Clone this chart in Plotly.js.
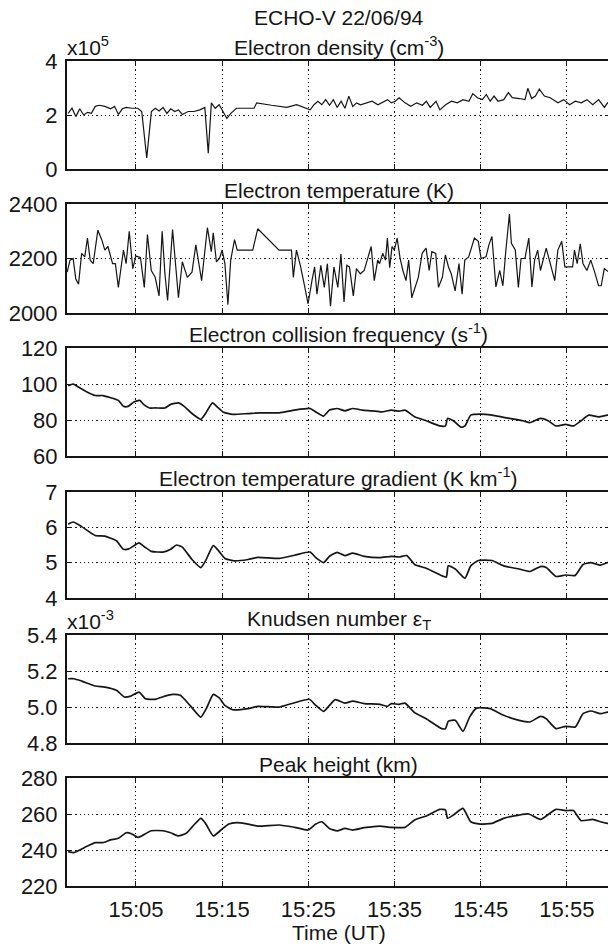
<!DOCTYPE html>
<html><head><meta charset="utf-8">
<script src="https://cdn.plot.ly/plotly-3.0.1.min.js"></script>
<style>html,body{margin:0;padding:0;overflow:hidden;background:#fff}#chart{width:612px;height:946px}</style>
</head><body><div id="chart"></div>
<script>
// time in minutes after 15:00 UT
const xTickVals = [5, 15, 25, 35, 45, 55];
const xTickText = ["15:05", "15:15", "15:25", "15:35", "15:45", "15:55"];

// Electron density (x1e5 cm^-3)
const densT = [-2.87,-2.42,-1.97,-1.52,-1.07,-0.62,-0.17,0.28,0.73,1.40,2.07,2.52,2.97,3.42,3.87,4.54,5.22,5.67,6.25,6.79,7.24,7.69,8.14,8.59,9.04,9.49,9.93,10.38,11.06,11.73,12.41,12.99,13.39,13.75,14.20,14.65,15.10,15.55,16.00,16.67,18.70,19.01,20.72,22.51,23.64,24.76,25.21,25.66,26.11,26.56,27.01,27.46,27.90,28.35,28.80,29.25,29.70,30.15,30.60,31.05,31.72,32.40,33.07,33.74,34.19,34.64,35.09,35.54,36.22,36.89,37.56,38.24,38.69,39.14,39.81,40.26,40.93,41.61,42.28,42.95,43.63,44.08,44.62,45.20,45.65,46.10,46.55,47.00,47.67,48.21,48.66,49.47,50.14,50.46,50.91,51.35,51.80,52.39,53.06,53.96,54.63,55.31,55.98,56.66,57.33,58.00,58.68,59.35,59.71,60];
const densV = [2.06,2.25,1.94,2.23,2.0,2.1,2.06,2.32,2.36,2.32,2.23,2.32,2.02,2.23,2.28,2.25,2.25,2.13,0.41,2.13,2.25,2.15,2.28,2.06,2.23,2.13,2.19,2.02,2.13,2.13,2.19,2.28,0.58,2.45,2.25,2.38,2.13,1.87,2.06,2.25,2.25,2.45,2.36,2.28,2.38,2.25,2.19,2.38,2.51,2.38,2.57,2.36,2.57,2.28,2.51,2.25,2.70,2.32,2.45,2.38,2.45,2.51,2.38,2.51,2.57,2.45,2.51,2.64,2.45,2.32,2.45,2.36,2.51,2.28,2.51,2.19,2.38,2.51,2.45,2.57,2.51,2.79,2.64,2.57,2.76,2.51,2.70,2.51,2.57,2.83,2.64,2.61,2.57,2.99,2.61,2.70,2.96,2.70,2.64,2.45,2.57,2.38,2.51,2.45,2.57,2.38,2.57,2.28,2.45,2.40];

// Electron temperature (K)
const tempT = [-2.98,-2.65,-2.29,-1.98,-1.66,-1.30,-0.94,-0.63,-0.31,0.04,0.58,1.03,1.39,1.75,2.29,2.61,2.96,3.55,3.86,4.22,4.63,4.99,5.52,5.97,6.33,6.78,7.23,7.68,8.04,8.36,8.67,9.25,9.93,10.38,10.96,11.50,11.95,12.62,13.29,13.74,13.97,14.33,14.69,15.00,15.32,15.67,15.99,16.44,16.75,18.55,19.13,21.60,23.04,23.26,23.62,24.07,24.52,24.97,25.42,25.73,26.00,26.45,26.85,27.21,27.57,27.97,28.42,28.78,29.14,29.46,29.77,30.22,30.58,31.03,31.48,31.93,32.29,32.65,33.05,33.27,33.63,33.95,34.17,34.44,34.71,34.98,35.30,35.65,35.97,36.33,36.64,37.00,37.76,38.21,38.66,39.02,39.33,39.78,40.10,40.55,40.90,41.26,41.58,42.03,42.48,42.84,43.15,43.60,44.27,44.72,45.04,45.62,45.95,46.30,46.76,47.21,47.57,47.93,48.33,48.56,49.01,49.37,49.68,50.13,50.58,50.94,51.25,51.61,51.93,52.60,53.05,53.59,53.95,54.40,54.76,55.07,55.66,55.88,56.19,56.55,56.87,57.32,57.77,58.22,58.67,58.98,59.34,59.70,60];
const tempV = [2150,2194,2200,2125,2106,2219,2206,2275,2194,2181,2304,2269,2231,2244,2181,2181,2094,2231,2181,2300,2163,2209,2204,2094,2288,2156,2131,2063,2300,2144,2046,2306,2056,2188,2131,2150,2250,2119,2313,2225,2294,2188,2200,2231,2181,2031,2194,2269,2231,2231,2309,2231,2231,2131,2231,2175,2106,2034,2119,2169,2069,2175,2094,2181,2025,2169,2094,2216,2041,2175,2169,2063,2163,2144,2156,2206,2244,2119,2194,2181,2219,2194,2275,2166,2244,2231,2275,2200,2156,2119,2194,2056,2131,2219,2238,2156,2225,2219,2094,2131,2213,2169,2144,2081,2181,2069,2194,2206,2275,2263,2200,2206,2250,2281,2096,2156,2100,2234,2363,2256,2231,2094,2200,2200,2275,2096,2194,2231,2156,2238,2181,2119,2231,2263,2169,2169,2169,2231,2181,2254,2181,2156,2194,2150,2100,2100,2163,2154,2150];

// Electron collision frequency (s^-1)
const collT = [-2.87,-2.29,-1.75,-0.85,0.27,1.17,2.07,2.96,3.55,4.09,4.76,5.44,5.88,6.56,7.23,8.36,9.03,9.93,10.60,11.50,12.53,13.07,13.88,14.42,15.09,16.22,18.01,19.36,21.61,23.40,25.20,25.87,26.77,27.45,28.34,29.24,30.14,31.26,32.39,33.51,34.63,35.53,36.21,37.33,38.68,40.25,40.92,41.15,41.82,42.72,43.17,43.84,44.96,46.31,47.66,49.01,49.91,50.71,51.93,52.83,53.73,54.85,55.75,56.64,57.54,58.67,59.70,60];
const collV = [99.1,100,98.5,96,93.6,93.6,92.4,90.9,87.6,87.6,90,90.9,88.7,86.7,86.7,86.7,88.7,89.5,87.6,83.6,80.4,83.6,89.5,87.3,84.5,83.1,83.6,84,84,85.5,86.4,84.5,82.2,85.5,86.4,85.1,86.4,85.5,85.1,84.5,85.5,84.9,85.5,81.8,79.6,76.7,76.7,80.9,79.6,76,76.7,82.7,83.3,82.7,81.5,80.4,79.6,78.5,80.9,79.6,76.7,77.6,76.7,79.6,82.7,81.8,82.7,82.5];

// Electron temperature gradient (K km^-1)
const gradT = [-2.87,-2.29,-1.30,0.27,1.39,2.74,3.55,4.18,5.35,5.97,6.78,8.13,9.03,9.70,10.38,11.50,12.53,13.07,13.97,14.64,15.32,16.44,18.01,19.14,21.61,23.40,25.20,25.87,26.77,27.45,28.34,29.24,30.14,31.49,33.29,34.63,35.53,36.43,37.33,38.68,40.70,41.01,41.24,42.05,43.17,43.84,44.74,46.31,47.66,49.46,50.71,51.93,52.60,53.73,54.85,55.97,56.87,57.77,58.89,59.70,60];
const gradV = [6.09,6.15,6.02,5.77,5.75,5.62,5.38,5.39,5.56,5.45,5.32,5.30,5.38,5.50,5.44,5.09,4.86,5.05,5.48,5.32,5.12,5.05,5.09,5.15,5.12,5.21,5.30,5.14,5.00,5.18,5.29,5.20,5.27,5.18,5.14,5.18,5.16,5.20,4.95,4.84,4.61,4.59,4.91,4.82,4.56,4.91,5.06,5.06,4.91,4.82,4.75,4.89,4.86,4.61,4.65,4.64,4.95,5.00,4.93,5.00,4.98];

// Knudsen number (x1e-3)
const knudT = [-2.87,-2.20,-1.30,0.27,1.39,2.74,3.64,4.31,5.35,6.11,7.23,8.36,9.25,10.15,11.27,12.53,13.16,13.97,14.64,15.32,16.22,18.01,19.14,21.61,23.40,25.11,25.87,26.77,27.45,28.12,29.24,30.14,31.49,33.29,34.18,34.63,35.53,36.21,37.33,38.68,40.47,40.92,41.24,42.05,42.94,43.71,44.52,46.09,47.66,49.46,50.71,51.93,52.60,53.73,54.85,55.97,56.87,57.77,58.89,59.70,60];
const knudV = [5.157,5.157,5.144,5.117,5.111,5.093,5.056,5.059,5.083,5.046,5.043,5.061,5.070,5.065,5.009,4.944,4.991,5.070,5.052,5.009,4.985,4.991,5.004,5.000,5.024,5.043,5.009,4.976,5.009,5.041,5.022,5.033,5.019,5.015,5.004,5.019,5.015,5.022,4.969,4.935,4.880,4.880,4.922,4.926,4.865,4.944,4.994,4.991,4.954,4.926,4.917,4.948,4.935,4.880,4.893,4.889,4.963,4.978,4.963,4.972,4.970];

// Peak height (km)
const peakT = [-2.87,-2.20,-1.53,-0.63,0.27,1.17,2.07,2.96,3.86,4.54,5.21,5.66,6.78,8.13,9.03,9.93,10.83,11.72,12.53,13.07,13.97,14.87,15.77,16.67,18.01,19.14,21.61,23.40,24.98,25.87,26.55,27.45,28.34,29.24,30.14,31.49,33.29,34.63,36.21,37.33,38.68,40.25,40.92,41.15,41.82,42.94,43.84,44.96,46.31,47.66,49.46,50.58,51.93,53.73,54.85,55.75,56.64,57.99,58.89,59.70,60];
const peakV = [239.1,238.5,240,242.2,244.1,244.1,245.6,246.5,249.6,248.9,247,247.8,250.7,250.7,249.6,247.8,249.3,253.9,257.6,254.8,247.8,251.1,254.4,255.2,254.4,253.3,253.9,252.6,251.1,254.4,255.7,252,250.6,252,251.1,252.4,253.3,252.6,252.6,256.7,258.9,262.6,262.2,257.6,259.4,263.1,255.7,254.4,254.8,257.6,259.4,260,257,262.6,261.9,261.9,256.3,257,255.7,254.8,254.5];

const panelTitles = ["Electron density (cm<sup>-3</sup>)", "Electron temperature (K)",
  "Electron collision frequency (s<sup>-1</sup>)", "Electron temperature gradient (K km<sup>-1</sup>)",
  "Knudsen number ε<sub>T</sub>", "Peak height (km)"];
const yRanges = [[0,4],[2000,2400],[60,120],[4,7],[4.8,5.4],[220,280]];
const yTicks = [[0,2,4],[2000,2200,2400],[60,80,100,120],[4,5,6,7],[4.8,5.0,5.2,5.4],[220,240,260,280]];
const yTickLabels = [["0","2","4"],["2000","2200","2400"],["60","80","100","120"],["4","5","6","7"],["4.8","5.0","5.2","5.4"],["220","240","260","280"]];
const series = [[densT,densV],[tempT,tempV],[collT,collV],[gradT,gradV],[knudT,knudV],[peakT,peakV]];

const domains = [[0.8691,1],[0.6945,0.8267],[0.5212,0.6521],[0.3491,0.4776],[0.1733,0.3042],[0,0.1309]];
const FONT = "Liberation Sans, Arial, Helvetica, sans-serif";
const INK = "#151515";
const TICKSIZE = 22, TITLESIZE = 21;

const axisBase = {
  showline: true, linecolor: INK, linewidth: 2, mirror: "ticks",
  ticks: "inside", ticklen: 5, tickwidth: 1, tickcolor: INK,
  showgrid: true, gridcolor: INK, gridwidth: 1, griddash: "1.2px,3px",
  zeroline: false, fixedrange: true,
  tickfont: {family: FONT, size: TICKSIZE, color: INK}
};

const data = [];
const layout = {
  width: 612, height: 946,
  margin: {l: 67, r: 2, t: 61, b: 60},
  paper_bgcolor: "#fff", plot_bgcolor: "#fff",
  showlegend: false,
  font: {family: FONT, size: TITLESIZE, color: INK},
  annotations: []
};

for (let i = 0; i < 6; i++) {
  const k = i === 0 ? "" : String(i + 1);
  const smooth = i >= 2;
  data.push({
    x: series[i][0], y: series[i][1], xaxis: "x" + k, yaxis: "y" + k,
    type: "scatter", mode: "lines",
    line: {color: INK, width: smooth ? 1.7 : 1.2, shape: smooth ? "spline" : "linear", smoothing: 0.5},
    hoverinfo: "skip"
  });
  layout["xaxis" + k] = Object.assign({}, axisBase, {
    range: [-3, 60], anchor: "y" + k, domain: [0, 1],
    tickvals: xTickVals, ticktext: xTickText,
    showticklabels: i === 5, ticklabelstandoff: 3
  });
  layout["yaxis" + k] = Object.assign({}, axisBase, {
    range: yRanges[i], anchor: "x" + k, domain: domains[i],
    tickvals: yTicks[i], ticktext: yTickLabels[i], ticklabelstandoff: 3
  });
  layout.annotations.push({
    text: panelTitles[i], xref: "paper", yref: "paper", x: 0.5, y: domains[i][1],
    xanchor: "center", yanchor: "bottom", yshift: 0, showarrow: false,
    font: {family: FONT, size: TITLESIZE, color: INK}
  });
}
layout.annotations.push({
  text: "ECHO-V 22/06/94", xref: "paper", yref: "paper", x: 0.5, y: 1,
  xanchor: "center", yanchor: "middle", yshift: 44, showarrow: false,
  font: {family: FONT, size: TITLESIZE, color: INK}
});
layout.annotations.push({
  text: "x10<sup>5</sup>", xref: "paper", yref: "paper", x: 0, y: domains[0][1],
  xanchor: "left", yanchor: "bottom", yshift: 0, xshift: -2, showarrow: false,
  font: {family: FONT, size: TITLESIZE, color: INK}
});
layout.annotations.push({
  text: "x10<sup>-3</sup>", xref: "paper", yref: "paper", x: 0, y: domains[4][1],
  xanchor: "left", yanchor: "bottom", yshift: 0, xshift: -2, showarrow: false,
  font: {family: FONT, size: TITLESIZE, color: INK}
});
layout.annotations.push({
  text: "Time (UT)", xref: "paper", yref: "paper", x: 0.5, y: 0,
  xanchor: "center", yanchor: "middle", yshift: -46, showarrow: false,
  font: {family: FONT, size: TITLESIZE, color: INK}
});

Plotly.newPlot("chart", data, layout, {staticPlot: true, displayModeBar: false});
</script></body></html>
